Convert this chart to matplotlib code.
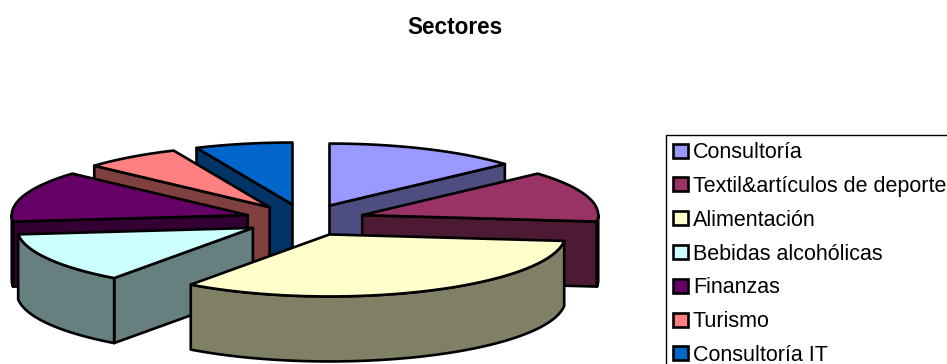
import numpy as np
import matplotlib
matplotlib.use("Agg")
import matplotlib.pyplot as plt
from matplotlib.patches import Patch, Polygon

plt.rcParams['font.family'] = ['Liberation Sans', 'DejaVu Sans']

# Sector shares of the portfolio
sectors = ["Consultoría", "Textil&artículos de deporte", "Alimentación",
           "Bebidas alcohólicas", "Finanzas", "Turismo", "Consultoría IT"]
counts = [2, 2, 5, 2, 2, 1, 1]
top_colors = ["#9999FF", "#993366", "#FFFFCC", "#CCFFFF", "#660066", "#FF8080", "#0066CC"]
side_colors = ["#4D4D80", "#4D1A33", "#808066", "#668080", "#330033", "#804040", "#003366"]
title = "Sectores"

# Projection of the exploded pie, in figure pixels
CX, CY = 305.0, 220.0
RX, RY = 236.0, 62.0
DEPTH = 65.0
EXPLODE = 0.255
LW = 1.9

fig = plt.figure(figsize=(9.47, 3.64), dpi=100)
ax = fig.add_axes([0, 0, 1, 1])
ax.set_xlim(0, 947)
ax.set_ylim(364, 0)
ax.axis("off")


def rim(t, ox, oy):
    """Point on a slice's rim; t runs clockwise from twelve o'clock, in degrees."""
    a = np.radians(t)
    return np.column_stack([ox + RX * np.sin(a), oy - RY * np.cos(a)])


def face(points, color, z):
    ax.add_patch(Polygon(points, closed=True, facecolor=color, edgecolor="black",
                         linewidth=LW, joinstyle="round", zorder=z))


edges = 360.0 * np.concatenate([[0], np.cumsum(counts)]) / np.sum(counts)
# Back slices first, so nearer ones paint over them
draw_order = [6, 0, 5, 1, 4, 3, 2]

for z, i in enumerate(draw_order):
    t0, t1 = edges[i], edges[i + 1]
    mid = np.radians((t0 + t1) / 2)
    ox = CX + EXPLODE * RX * np.sin(mid)
    oy = CY - EXPLODE * RY * np.cos(mid)
    apex = np.array([[ox, oy]])
    drop = np.array([0, DEPTH])
    base = z * 10

    # Cut faces that turn toward the viewer
    for t, normal in ((t0, t0 - 90), (t1, t1 + 90)):
        if np.cos(np.radians(normal)) < -1e-6:
            p = rim(t, ox, oy)
            face(np.vstack([apex, p, p + drop, apex + drop]), side_colors[i], base + 1)

    # Curved outer wall, front half only
    lo, hi = max(t0, 90), min(t1, 270)
    if lo < hi:
        arc = rim(np.linspace(lo, hi, 80), ox, oy)
        face(np.vstack([arc, arc[::-1] + drop]), side_colors[i], base + 2)

    # Top surface
    arc = rim(np.linspace(t0, t1, 80), ox, oy)
    face(np.vstack([apex, arc]), top_colors[i], base + 3)

ax.text(455, 27.5, title, ha="center", va="center", fontsize=16.3, fontweight="bold", color="black")

handles = [Patch(facecolor=f, edgecolor="black", linewidth=LW, label=s)
           for s, f in zip(sectors, top_colors)]
leg = ax.legend(handles=handles, loc="upper left",
                bbox_to_anchor=(666 / 947, 1 - 135 / 364), bbox_transform=fig.transFigure,
                fontsize=15.5, frameon=True, fancybox=False, framealpha=1, edgecolor="black",
                borderaxespad=0, borderpad=0.33, labelspacing=0.595, handlelength=0.68,
                handleheight=0.62, handletextpad=0.24)
leg.get_frame().set_linewidth(1.0)
leg.set_zorder(200)

fig.savefig("out.png", dpi=100, facecolor="white")
